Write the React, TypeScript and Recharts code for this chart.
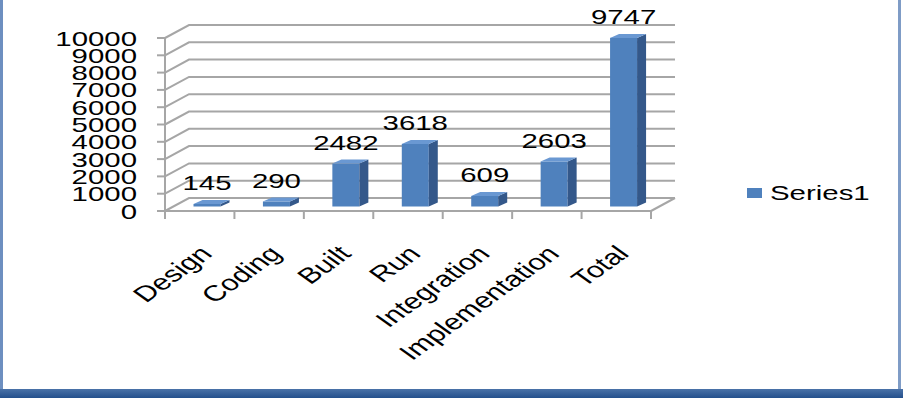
import { Bar, BarChart, CartesianGrid, LabelList, Legend, XAxis, YAxis } from 'recharts';

const categories = ['Design', 'Coding', 'Built', 'Run', 'Integration', 'Implementation', 'Total'];
const series1 = [145, 290, 2482, 3618, 609, 2603, 9747];
const yTicks = [0, 1000, 2000, 3000, 4000, 5000, 6000, 7000, 8000, 9000, 10000];

const data = categories.map((name, i) => ({ name, Series1: series1[i] }));

const FONT = '"Liberation Sans", Arial, sans-serif';
const SX = 1.4; // the source picture is stretched horizontally
const GRID = '#a6a6a6';
// back wall offset
const DX = 24;
const DY = -13;
// bar offset inside the depth and bar depth
const BX = 7.5;
const BY = -4.5;
const BD = 9;
const BDY = -4;

const Bar3D = (props: any) => {
  const { x, y, width, height } = props;
  const fx = x + BX;
  const fy = y + BY;
  const w = width;
  const h = height;
  return (
    <g>
      <rect x={fx} y={fy} width={w} height={h} fill="#4f81bd" />
      <polygon
        points={`${fx + w},${fy} ${fx + w + BD},${fy + BDY} ${fx + w + BD},${fy + h + BDY} ${fx + w},${fy + h}`}
        fill="#34588a"
      />
      <polygon
        points={`${fx},${fy} ${fx + BD},${fy + BDY} ${fx + w + BD},${fy + BDY} ${fx + w},${fy}`}
        fill="#6a98d2"
      />
    </g>
  );
};

const GridLine = (props: any) => {
  const { x1, y1, x2, y2 } = props;
  const isFloor = Math.abs(y1 - 211) < 1;
  return (
    <g key={props.key}>
      <polyline
        points={`${x1},${y1} ${x1 + DX},${y1 + DY} ${x2 + DX},${y2 + DY}`}
        fill="none"
        stroke={GRID}
        strokeWidth={2}
      />
      {isFloor && (
        <line x1={x2} y1={y2} x2={x2 + DX} y2={y2 + DY} stroke={GRID} strokeWidth={2} />
      )}
    </g>
  );
};

const YTick = (props: any) => {
  const { y, payload } = props;
  return (
    <g>
      <line x1={157} y1={y} x2={165} y2={y} stroke={GRID} strokeWidth={2} />
      <text
        transform={`translate(137,${y + 7.5}) scale(${SX},1)`}
        textAnchor="end"
        fontFamily={FONT}
        fontSize={21}
        fill="#000"
      >
        {payload.value}
      </text>
    </g>
  );
};

const XTick = (props: any) => {
  const { x, y, payload } = props;
  const half = payload.offset ?? 34.7;
  return (
    <g>
      <line x1={x - half} y1={211} x2={x - half} y2={219} stroke={GRID} strokeWidth={2} />
      {payload.index === categories.length - 1 && (
        <line x1={x + half} y1={211} x2={x + half} y2={219} stroke={GRID} strokeWidth={2} />
      )}
      <text
        transform={`translate(${x + 14},${y + 36}) scale(${SX},1) rotate(-45)`}
        textAnchor="end"
        fontFamily={FONT}
        fontSize={22}
        fill="#000"
      >
        {payload.value}
      </text>
    </g>
  );
};

const ValueLabel = (props: any) => {
  const { x, y, width, value } = props;
  return (
    <text
      transform={`translate(${x + width / 2 + BX},${y - 18}) scale(${SX},1)`}
      textAnchor="middle"
      fontFamily={FONT}
      fontSize={21}
      fill="#000"
    >
      {value}
    </text>
  );
};

const LegendContent = () => (
  <div style={{ display: 'flex', alignItems: 'center', fontFamily: FONT }}>
    <span style={{ width: 15, height: 10, background: '#4f81bd', display: 'inline-block' }} />
    <span
      style={{
        fontSize: 21,
        marginLeft: 8,
        transform: `scaleX(${SX})`,
        transformOrigin: 'left center',
        color: '#000',
        whiteSpace: 'nowrap',
      }}
    >
      Series1
    </span>
  </div>
);

export default function App() {
  return (
    <div
      style={{
        position: 'fixed',
        left: 0,
        top: 0,
        width: 912,
        height: 398,
        background: '#fff',
        overflow: 'hidden',
      }}
    >
      {/* frame of the pasted chart */}
      <div style={{ position: 'absolute', left: 0, top: 0, width: 3, height: 392, background: '#6d8fc0' }} />
      <div style={{ position: 'absolute', left: 898, top: 0, width: 3, height: 392, background: '#7f9cc6' }} />
      <div
        style={{
          position: 'absolute',
          left: 0,
          top: 389,
          width: 903,
          height: 9,
          background: 'linear-gradient(#4a72a8, #24508c)',
        }}
      />
      <BarChart
        width={912}
        height={398}
        data={data}
        margin={{ top: 38, right: 261, bottom: 0, left: 0 }}
        style={{ position: 'absolute', left: 0, top: 0 }}
      >
        <CartesianGrid horizontal={GridLine} vertical={false} />
        <YAxis
          width={165}
          domain={[0, 10000]}
          ticks={yTicks}
          interval={0}
          axisLine={{ stroke: GRID, strokeWidth: 2 }}
          tickLine={false}
          tick={YTick}
        />
        <XAxis
          dataKey="name"
          height={187}
          interval={0}
          axisLine={{ stroke: GRID, strokeWidth: 2 }}
          tickLine={false}
          tick={XTick}
        />
        <Legend
          layout="horizontal"
          align="center"
          verticalAlign="middle"
          wrapperStyle={{ left: 747, top: 181, width: 'auto' }}
          content={LegendContent}
        />
        <Bar dataKey="Series1" barSize={27} shape={Bar3D} isAnimationActive={false}>
          <LabelList dataKey="Series1" content={ValueLabel} />
        </Bar>
      </BarChart>
    </div>
  );
}
